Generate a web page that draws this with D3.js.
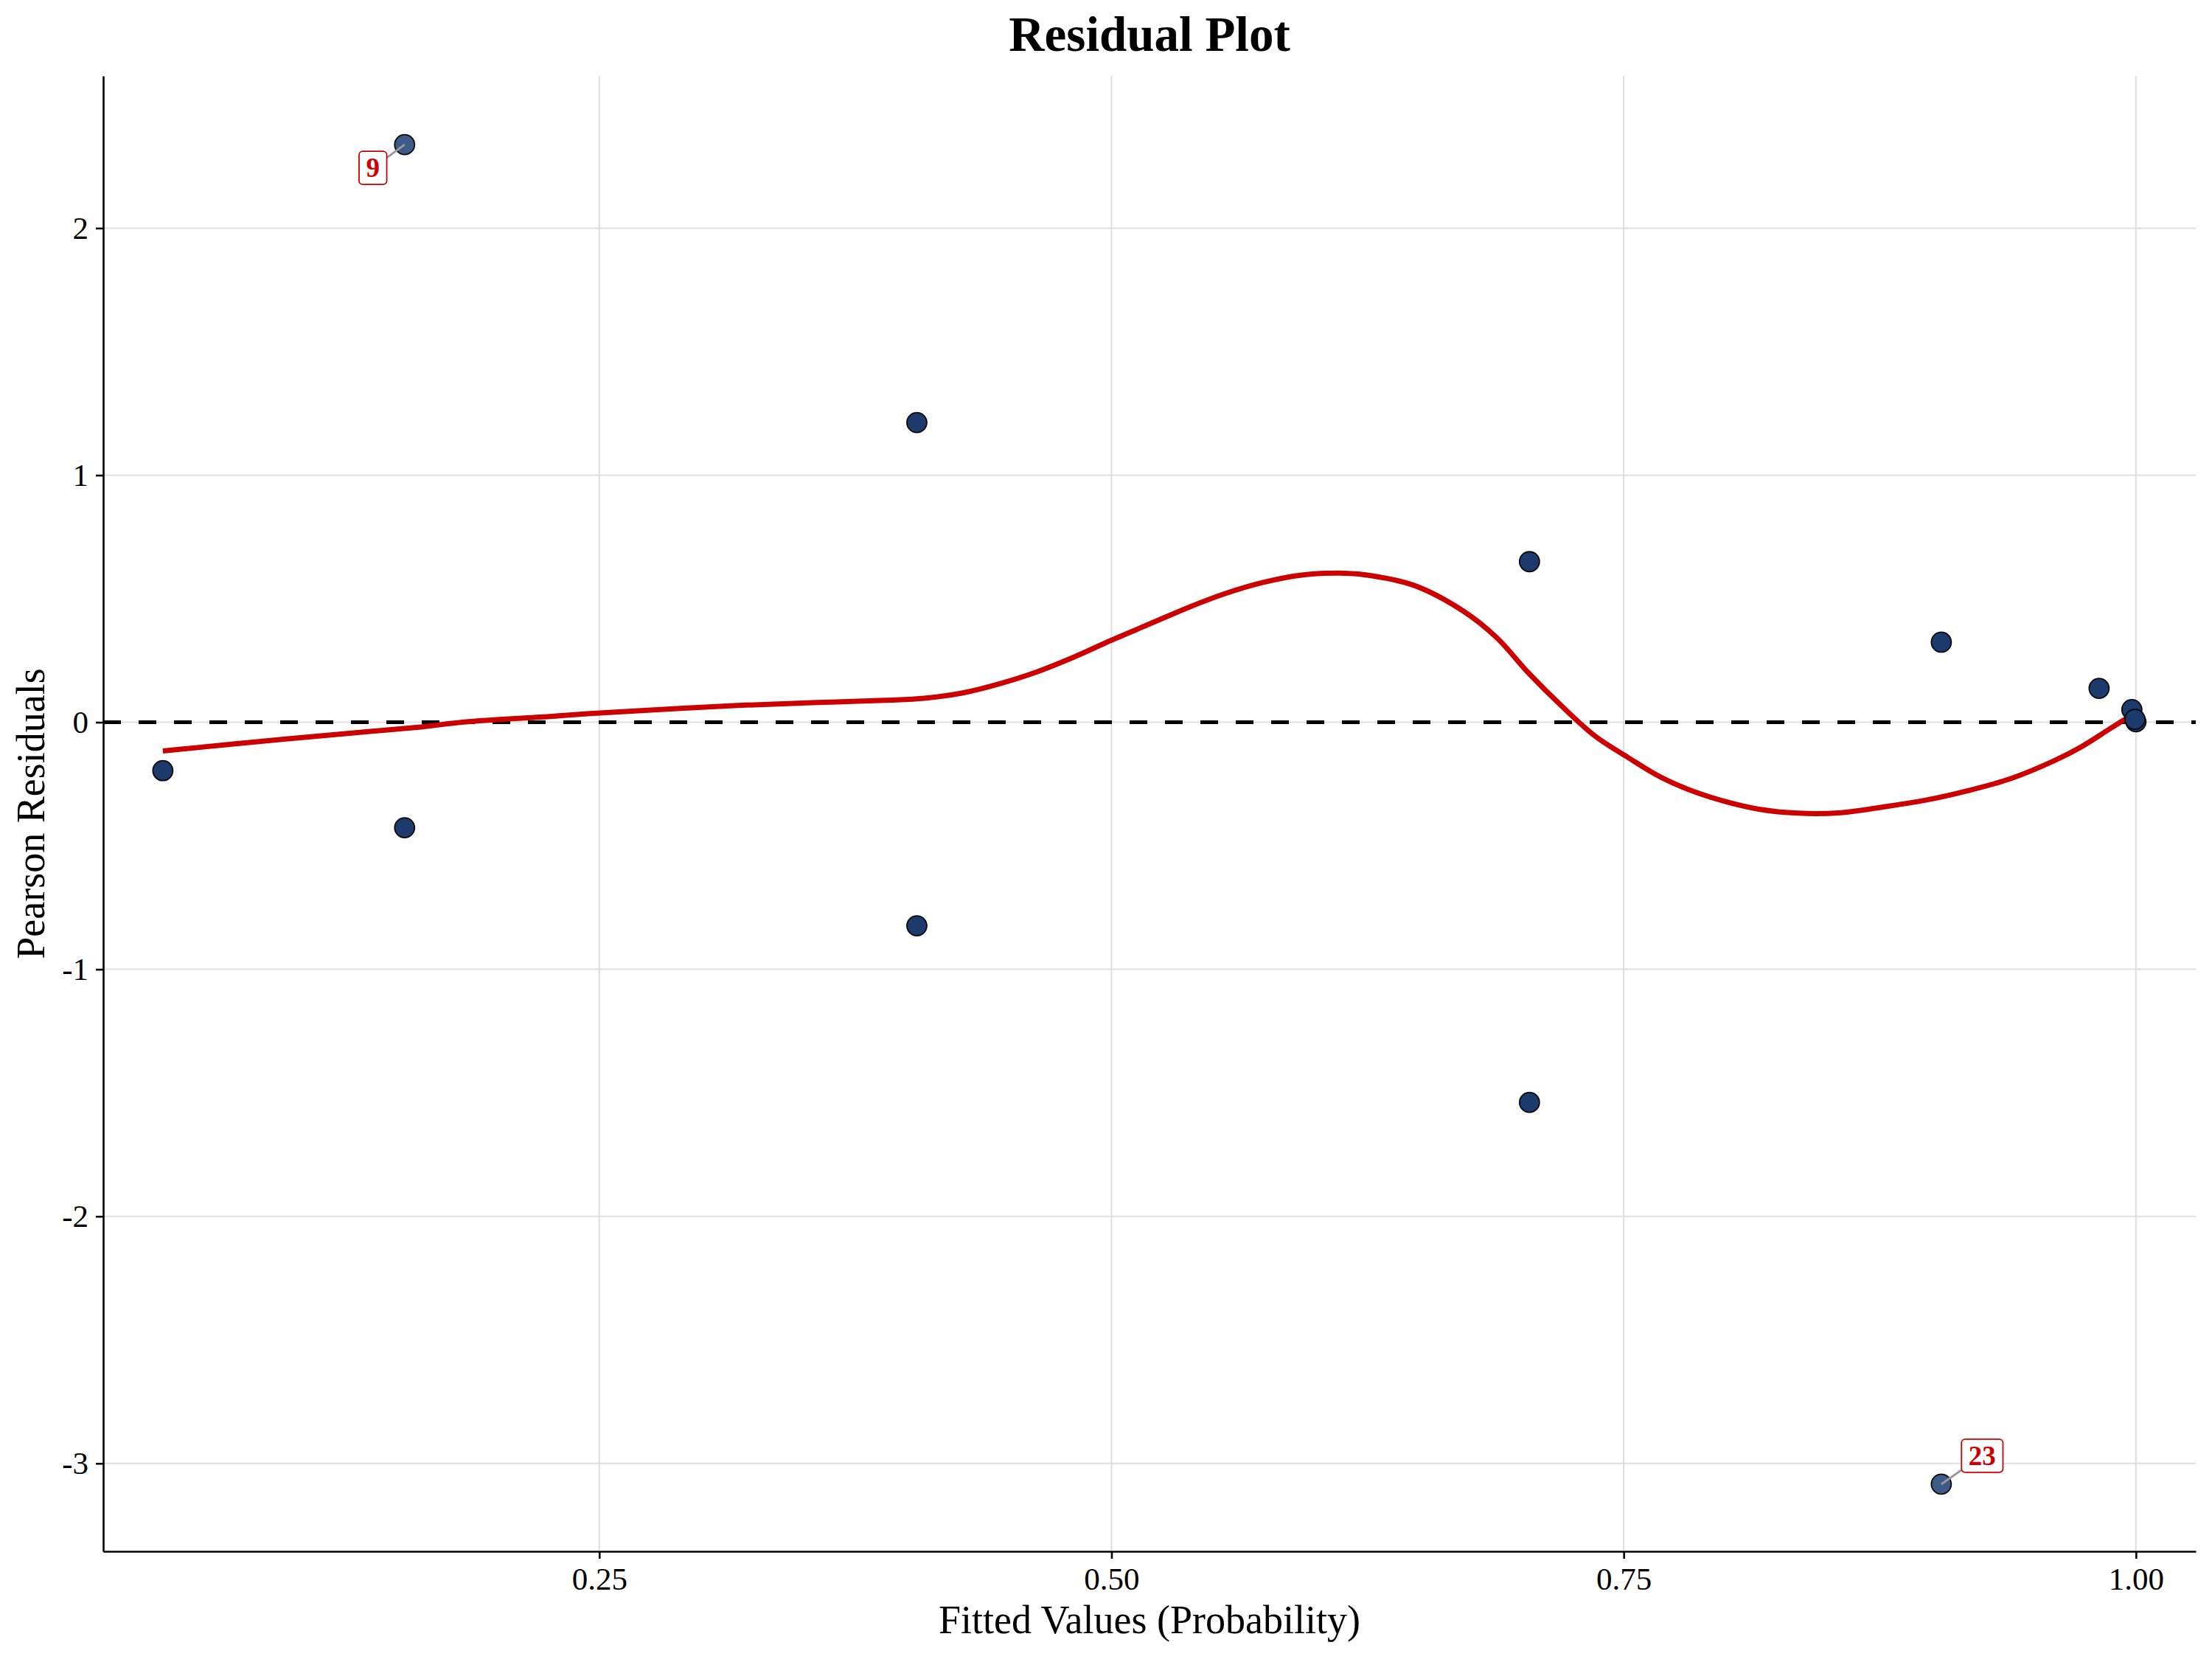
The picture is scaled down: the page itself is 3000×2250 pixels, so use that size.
<!DOCTYPE html>
<html>
<head>
<meta charset="utf-8">
<script src="https://cdn.jsdelivr.net/npm/d3@7"></script>
<style>
	body { margin: 0; background: #fff; }
	svg text { font-family: "Liberation Serif", "Times New Roman", serif; }
</style>
</head>
<body>
<div id="residual-plot"></div>
<script>

// observations: fitted probability vs pearson residual
const fittedValues = [0.037, 0.155, 0.155, 0.405, 0.405, 0.704, 0.704, 0.905, 0.905, 0.982, 0.998, 1.000, 0.9995];
const pearsonResiduals = [-0.196, 2.338, -0.427, 1.213, -0.824, 0.650, -1.539, 0.324, -3.084, 0.137, 0.051, 0.002, 0.012];
const pointLabels = ["", "9", "", "", "", "", "", "", "23", "", "", "", ""];

// loess smoother
const smoothX = [0.037, 0.098, 0.163, 0.184, 0.227, 0.2455, 0.2815, 0.3175, 0.3535, 0.3895, 0.4086, 0.427, 0.445,
	0.4636, 0.482, 0.500, 0.519, 0.537, 0.5555, 0.574, 0.592, 0.6105, 0.6235, 0.6476, 0.6717, 0.6878, 0.7038,
	0.7199, 0.736, 0.752, 0.768, 0.784, 0.800, 0.816, 0.835, 0.856, 0.8765, 0.897, 0.918, 0.9386, 0.959, 0.973, 0.987, 1.000];
const smoothY = [-0.116, -0.067, -0.019, 0.001, 0.024, 0.035, 0.052, 0.068, 0.079, 0.089, 0.097, 0.118, 0.155,
	0.204, 0.265, 0.332, 0.399, 0.463, 0.521, 0.566, 0.595, 0.604, 0.597, 0.554, 0.450, 0.344, 0.197,
	0.064, -0.056, -0.142, -0.222, -0.280, -0.322, -0.352, -0.368, -0.366, -0.343, -0.316, -0.277, -0.229, -0.160, -0.101, -0.028, 0.040];

const xTicks = [0.25, 0.50, 0.75, 1.00];
const yTicks = [-3, -2, -1, 0, 1, 2];
const xDomain = [0.0079, 1.0292];
const yDomain = [-3.356, 2.616];


class ResidualPlot {

	constructor(parentElement) {
		this.parentElement = parentElement;
		this.points = fittedValues.map((d, i) => ({fitted: d, resid: pearsonResiduals[i], label: pointLabels[i]}));
		this.smooth = smoothX.map((d, i) => ({x: d, y: smoothY[i]}));
		this.initVis();
	}

	initVis() {
		let vis = this;

		vis.margin = {top: 103, right: 22, bottom: 146, left: 140};
		vis.width = 3000 - vis.margin.left - vis.margin.right;
		vis.height = 2250 - vis.margin.top - vis.margin.bottom;

		let root = d3.select("#" + vis.parentElement).append("svg")
			.attr("width", 3000)
			.attr("height", 2250);

		root.append("rect")
			.attr("width", 3000)
			.attr("height", 2250)
			.attr("fill", "#fff");

		vis.svg = root.append("g")
			.attr("transform", "translate(" + vis.margin.left + "," + vis.margin.top + ")");

		// Scales
		vis.x = d3.scaleLinear().domain(xDomain).range([0, vis.width]);
		vis.y = d3.scaleLinear().domain(yDomain).range([vis.height, 0]);

		// title + axis titles
		root.append("text")
			.attr("x", vis.margin.left + vis.width / 2)
			.attr("y", 69)
			.attr("text-anchor", "middle")
			.attr("font-size", 67)
			.attr("font-weight", "bold")
			.text("Residual Plot");

		root.append("text")
			.attr("x", vis.margin.left + vis.width / 2)
			.attr("y", 2215)
			.attr("text-anchor", "middle")
			.attr("font-size", 54)
			.text("Fitted Values (Probability)");

		root.append("text")
			.attr("transform", "translate(60," + (vis.margin.top + vis.height / 2) + ") rotate(-90)")
			.attr("text-anchor", "middle")
			.attr("font-size", 54)
			.text("Pearson Residuals");

		vis.updateVis();
	}

	updateVis() {
		let vis = this;

		// grid
		vis.svg.append("g").selectAll("line.gx")
			.data(xTicks)
			.enter().append("line")
			.attr("x1", d => vis.x(d)).attr("x2", d => vis.x(d))
			.attr("y1", 0).attr("y2", vis.height)
			.attr("stroke", "#dedede").attr("stroke-width", 2);
		vis.svg.append("g").selectAll("line.gy")
			.data(yTicks)
			.enter().append("line")
			.attr("x1", 0).attr("x2", vis.width)
			.attr("y1", d => vis.y(d)).attr("y2", d => vis.y(d))
			.attr("stroke", "#dedede").attr("stroke-width", 2);

		// zero reference
		vis.svg.append("line")
			.attr("x1", 0).attr("x2", vis.width)
			.attr("y1", vis.y(0)).attr("y2", vis.y(0))
			.attr("stroke", "#000")
			.attr("stroke-width", 5)
			.attr("stroke-dasharray", "24,24");

		// smoother
		let line = d3.line()
			.x(d => vis.x(d.x))
			.y(d => vis.y(d.y))
			.curve(d3.curveCatmullRom.alpha(0.5));
		vis.svg.append("path")
			.datum(vis.smooth)
			.attr("d", line)
			.attr("fill", "none")
			.attr("stroke", "#cc0000")
			.attr("stroke-width", 7)
			.attr("stroke-linecap", "butt");

		// points
		vis.svg.append("g").selectAll("circle")
			.data(vis.points)
			.enter().append("circle")
			.attr("cx", d => vis.x(d.fitted))
			.attr("cy", d => vis.y(d.resid))
			.attr("r", 13.5)
			.attr("fill", d => d.label ? "#3d5a88" : "#1d3a6c")
			.attr("stroke", "#0a0a0a")
			.attr("stroke-width", 1.8);

		// repelled labels (offsets in px)
		let nudge = {"9": [-43, 31.5], "23": [55.5, -38.5]};
		let labelled = vis.points.filter(d => d.label);
		let lab = vis.svg.append("g").selectAll("g")
			.data(labelled)
			.enter().append("g");

		lab.each(function(d) {
			let g = d3.select(this);
			let px = vis.x(d.fitted), py = vis.y(d.resid);
			let [dx, dy] = nudge[d.label];
			let cx = px + dx, cy = py + dy;
			let hw = d.label.length * 9.3 + 9.5, hh = 22.5;
			// clip segment at box edge
			let t = Math.min(hw / Math.abs(dx), hh / Math.abs(dy));
			g.append("line")
				.attr("x1", px).attr("y1", py)
				.attr("x2", cx - dx * t).attr("y2", cy - dy * t)
				.attr("stroke", "#999")
				.attr("stroke-width", 3);
			g.append("rect")
				.attr("x", cx - hw).attr("y", cy - hh)
				.attr("width", hw * 2).attr("height", hh * 2)
				.attr("rx", 5)
				.attr("fill", "#fff")
				.attr("stroke", "#cc0000")
				.attr("stroke-width", 1.8);
			g.append("text")
				.attr("x", cx).attr("y", cy + 12.5)
				.attr("text-anchor", "middle")
				.attr("font-size", 37)
				.attr("font-weight", "bold")
				.attr("fill", "#cc0000")
				.text(d.label);
		});

		// axes
		let xAxis = d3.axisBottom(vis.x)
			.tickValues(xTicks)
			.tickFormat(d3.format(".2f"))
			.tickSize(10).tickSizeOuter(0).tickPadding(11);
		let yAxis = d3.axisLeft(vis.y)
			.tickValues(yTicks)
			.tickFormat(d => String(d))
			.tickSize(10).tickSizeOuter(0).tickPadding(10);

		let gx = vis.svg.append("g")
			.attr("transform", "translate(0," + vis.height + ")")
			.call(xAxis);
		let gy = vis.svg.append("g").call(yAxis);

		[gx, gy].forEach(g => {
			g.select(".domain").attr("stroke", "#000").attr("stroke-width", 2.6);
			g.selectAll(".tick line").attr("stroke", "#000").attr("stroke-width", 2.6);
			g.selectAll(".tick text")
				.attr("fill", "#000")
				.attr("font-size", 43)
				.attr("font-family", "Liberation Serif, Times New Roman, serif");
		});
	}
}

new ResidualPlot("residual-plot");

</script>
</body>
</html>
